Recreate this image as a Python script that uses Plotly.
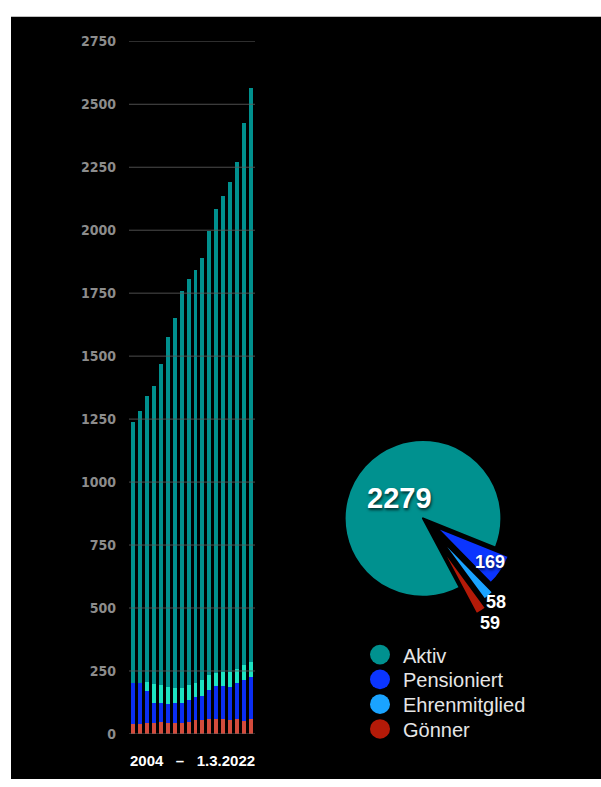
import math
import plotly.graph_objects as go

W, H = 601, 787

years = [str(y) for y in range(2004, 2021)] + ["1.3.2022"]
goenner = [38, 38, 42, 44, 47, 44, 44, 44, 47, 54, 54, 58, 58, 58, 54, 58, 52, 59]
pensioniert = [165, 163, 129, 79, 76, 75, 79, 79, 89, 91, 96, 116, 131, 131, 131, 144, 164, 169]
ehren = [0, 0, 35, 74, 70, 66, 60, 58, 57, 56, 64, 58, 51, 56, 62, 56, 56, 58]
aktiv = [1037, 1081, 1137, 1186, 1277, 1391, 1467, 1578, 1612, 1641, 1675, 1763, 1845, 1890, 1945, 2013, 2153, 2279]

pie_labels = ["Aktiv", "Pensioniert", "Ehrenmitglied", "Gönner"]
pie_values = [2279, 169, 58, 59]
yticks = list(range(0, 2751, 250))

bar_colors = {"Gönner": "#d34b3c", "Pensioniert": "#0b2ef2", "Ehrenmitglied": "#1de3c2", "Aktiv": "#00908e"}
pie_colors = ["#00918f", "#0b35ff", "#1aa3ff", "#b41a08"]
pie_pull = [0, 0.2, 0.3, 0.4]
pie_rotation = 152


def px(x):
    return x / W


def py(y):
    return 1 - y / H


fig = go.Figure()
for name, vals in [("Gönner", goenner), ("Pensioniert", pensioniert), ("Ehrenmitglied", ehren), ("Aktiv", aktiv)]:
    fig.add_trace(go.Bar(x=years, y=vals, name=name, marker_color=bar_colors[name],
                         marker_line_width=0, showlegend=False))

PCX, PCY, PBOX = 423, 521, 224
fig.add_trace(go.Pie(
    labels=pie_labels, values=pie_values, sort=False, direction="clockwise", rotation=pie_rotation,
    pull=pie_pull,
    marker=dict(colors=pie_colors, line=dict(color="black", width=2)),
    textinfo="none",
    domain=dict(x=[px(PCX - PBOX / 2), px(PCX + PBOX / 2)], y=[py(PCY + PBOX / 2), py(PCY - PBOX / 2)]),
    showlegend=False, hoverinfo="label+value",
))

annotations = [dict(text="2004   –   1.3.2022", x=px(192), y=py(768), xref="paper", yref="paper",
                    xanchor="center", yanchor="middle", showarrow=False,
                    font=dict(family="Liberation Sans", size=15, color="white", weight="bold"))]

# slice value labels, placed along each slice's bisector
radius = PBOX / (2 + 2 * max(pie_pull))
label_dist = [0.39, 1.01, 1.4, 1.57]
label_size = [29, 18, 18, 18]
total = sum(pie_values)
start = pie_rotation
for v, d, fs in zip(pie_values, label_dist, label_size):
    span = v / total * 360
    a = math.radians(start + span / 2)
    lx = PCX + d * radius * math.sin(a)
    ly = PCY - d * radius * math.cos(a)
    annotations.append(dict(text=str(v), x=px(lx), y=py(ly), xref="paper", yref="paper",
                            xanchor="center", yanchor="middle", showarrow=False,
                            font=dict(family="Liberation Sans", size=fs, color="white", weight="bold",
                                      shadow="1px 2px 3px rgba(0,0,0,0.7)")))
    start += span

shapes = [dict(type="rect", xref="paper", yref="paper", x0=px(11), x1=1.0, y0=0, y1=py(9),
               fillcolor="black", line_width=0, layer="below")]
for t in yticks:
    shapes.append(dict(type="line", xref="x domain", yref="y", x0=0, x1=1, y0=t, y1=t,
                       line=dict(color="rgba(90,90,90,0.85)", width=1), layer="above"))

# legend with circle swatches
LEG_X, LEG_Y0, LEG_STEP, LEG_R = 380, 660, 25.3, 10
for i, (name, c) in enumerate(zip(pie_labels, pie_colors)):
    cy = LEG_Y0 + i * LEG_STEP
    shapes.append(dict(type="circle", xref="paper", yref="paper",
                       x0=px(LEG_X - LEG_R), x1=px(LEG_X + LEG_R), y0=py(cy + LEG_R), y1=py(cy - LEG_R),
                       fillcolor=c, line_width=0))
    annotations.append(dict(text=name, x=px(LEG_X + 21), y=py(cy + 1), xref="paper", yref="paper",
                            xanchor="left", yanchor="middle", showarrow=False,
                            font=dict(family="Liberation Sans", size=20, color="#e6e6e6")))

fig.update_layout(
    width=W, height=H, margin=dict(l=0, r=0, t=0, b=0),
    paper_bgcolor="white", plot_bgcolor="black",
    barmode="stack", bargap=0.43,
    shapes=shapes, annotations=annotations, showlegend=False,
    xaxis=dict(domain=[px(129), px(255)], showticklabels=False, showgrid=False, zeroline=False,
               ticks="", range=[-0.55, 17.55]),
    yaxis=dict(domain=[py(741), py(34)], range=[0, 2750], tickvals=yticks, showgrid=False,
               zeroline=False, ticks="", ticklabelstandoff=12,
               tickfont=dict(family="DejaVu Sans Condensed", size=14, color="#8c8c8c", weight="bold")),
)

fig.write_html("out.html")
